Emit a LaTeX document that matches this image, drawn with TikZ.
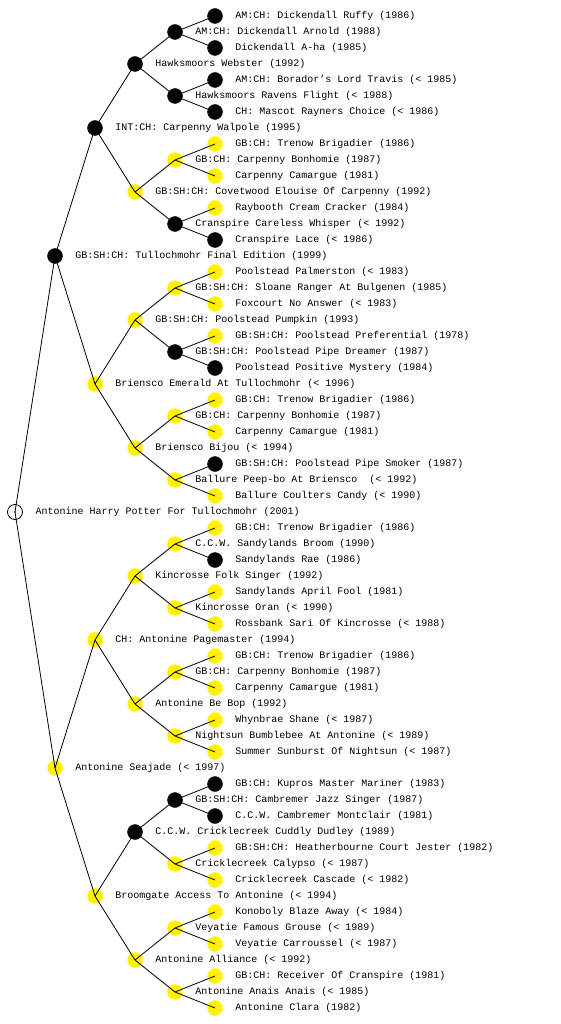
\documentclass[tikz,border=0pt]{standalone}
\usepackage{fontspec}
\setmonofont{Liberation Mono}
\usepackage{tikz}
\usetikzlibrary{positioning, calc}
\usepackage{xcolor}

\begin{document}
\begin{tikzpicture}[x=1pt, y=-1pt,
    dog/.style={circle, minimum size=15pt, inner sep=0pt},
    dogblk/.style={dog, fill=black, draw=black},
    dogylw/.style={dog, fill=yellow, draw=yellow},
    dogroot/.style={dog, fill=white, draw=black, line width=0.8pt},
    lbl/.style={inner sep=0pt, xshift=12.5pt, font=\ttfamily\fontsize{10}{12}\selectfont},
    edge/.style={line width=0.8pt}]
\useasboundingbox (0,0) rectangle (560,1024);
% root and parents
\node[dogroot, label={[lbl]right:{Antonine Harry Potter For Tullochmohr (2001)}}] (dog) at (15,512) {};
\fill (dog.center) circle (0.8pt);
\node[dogblk, label={[lbl]right:{GB:SH:CH: Tullochmohr Final Edition (1999)}}] (s) at (55,256) {};
\node[dogylw, label={[lbl]right:{Antonine Seajade (< 1997)}}] (d) at (55,768) {};
% grandparents
\node[dogblk, label={[lbl]right:{INT:CH: Carpenny Walpole (1995)}}] (ss) at (95,128) {};
\node[dogylw, label={[lbl]right:{Briensco Emerald At Tullochmohr (< 1996)}}] (sd) at (95,384) {};
\node[dogylw, label={[lbl]right:{CH: Antonine Pagemaster (1994)}}] (ds) at (95,640) {};
\node[dogylw, label={[lbl]right:{Broomgate Access To Antonine (< 1994)}}] (dd) at (95,896) {};
% third generation
\node[dogblk, label={[lbl]right:{Hawksmoors Webster (1992)}}] (sss) at (135,64) {};
\node[dogylw, label={[lbl]right:{GB:SH:CH: Covetwood Elouise Of Carpenny (1992)}}] (ssd) at (135,192) {};
\node[dogylw, label={[lbl]right:{GB:SH:CH: Poolstead Pumpkin (1993)}}] (sds) at (135,320) {};
\node[dogylw, label={[lbl]right:{Briensco Bijou (< 1994)}}] (sdd) at (135,448) {};
\node[dogylw, label={[lbl]right:{Kincrosse Folk Singer (1992)}}] (dss) at (135,576) {};
\node[dogylw, label={[lbl]right:{Antonine Be Bop (1992)}}] (dsd) at (135,704) {};
\node[dogblk, label={[lbl]right:{C.C.W. Cricklecreek Cuddly Dudley (1989)}}] (dds) at (135,832) {};
\node[dogylw, label={[lbl]right:{Antonine Alliance (< 1992)}}] (ddd) at (135,960) {};
% fourth generation
\node[dogblk, label={[lbl]right:{AM:CH: Dickendall Arnold (1988)}}] (ssss) at (175,32) {};
\node[dogblk, label={[lbl]right:{Hawksmoors Ravens Flight (< 1988)}}] (sssd) at (175,96) {};
\node[dogylw, label={[lbl]right:{GB:CH: Carpenny Bonhomie (1987)}}] (ssds) at (175,160) {};
\node[dogblk, label={[lbl]right:{Cranspire Careless Whisper (< 1992)}}] (ssdd) at (175,224) {};
\node[dogylw, label={[lbl]right:{GB:SH:CH: Sloane Ranger At Bulgenen (1985)}}] (sdss) at (175,288) {};
\node[dogblk, label={[lbl]right:{GB:SH:CH: Poolstead Pipe Dreamer (1987)}}] (sdsd) at (175,352) {};
\node[dogylw, label={[lbl]right:{GB:CH: Carpenny Bonhomie (1987)}}] (sdds) at (175,416) {};
\node[dogylw, label={[lbl]right:{Ballure Peep-bo At Briensco\ \ (< 1992)}}] (sddd) at (175,480) {};
\node[dogylw, label={[lbl]right:{C.C.W. Sandylands Broom (1990)}}] (dsss) at (175,544) {};
\node[dogylw, label={[lbl]right:{Kincrosse Oran (< 1990)}}] (dssd) at (175,608) {};
\node[dogylw, label={[lbl]right:{GB:CH: Carpenny Bonhomie (1987)}}] (dsds) at (175,672) {};
\node[dogylw, label={[lbl]right:{Nightsun Bumblebee At Antonine (< 1989)}}] (dsdd) at (175,736) {};
\node[dogblk, label={[lbl]right:{GB:SH:CH: Cambremer Jazz Singer (1987)}}] (ddss) at (175,800) {};
\node[dogylw, label={[lbl]right:{Cricklecreek Calypso (< 1987)}}] (ddsd) at (175,864) {};
\node[dogylw, label={[lbl]right:{Veyatie Famous Grouse (< 1989)}}] (ddds) at (175,928) {};
\node[dogylw, label={[lbl]right:{Antonine Anais Anais (< 1985)}}] (dddd) at (175,992) {};
% fifth generation
\node[dogblk, label={[lbl]right:{AM:CH: Dickendall Ruffy (1986)}}] (sssss) at (215,16) {};
\node[dogblk, label={[lbl]right:{Dickendall A-ha (1985)}}] (ssssd) at (215,48) {};
\node[dogblk, label={[lbl]right:{AM:CH: Borador’s Lord Travis (< 1985)}}] (sssds) at (215,80) {};
\node[dogblk, label={[lbl]right:{CH: Mascot Rayners Choice (< 1986)}}] (sssdd) at (215,112) {};
\node[dogylw, label={[lbl]right:{GB:CH: Trenow Brigadier (1986)}}] (ssdss) at (215,144) {};
\node[dogylw, label={[lbl]right:{Carpenny Camargue (1981)}}] (ssdsd) at (215,176) {};
\node[dogylw, label={[lbl]right:{Raybooth Cream Cracker (1984)}}] (ssdds) at (215,208) {};
\node[dogblk, label={[lbl]right:{Cranspire Lace (< 1986)}}] (ssddd) at (215,240) {};
\node[dogylw, label={[lbl]right:{Poolstead Palmerston (< 1983)}}] (sdsss) at (215,272) {};
\node[dogylw, label={[lbl]right:{Foxcourt No Answer (< 1983)}}] (sdssd) at (215,304) {};
\node[dogylw, label={[lbl]right:{GB:SH:CH: Poolstead Preferential (1978)}}] (sdsds) at (215,336) {};
\node[dogblk, label={[lbl]right:{Poolstead Positive Mystery (1984)}}] (sdsdd) at (215,368) {};
\node[dogylw, label={[lbl]right:{GB:CH: Trenow Brigadier (1986)}}] (sddss) at (215,400) {};
\node[dogylw, label={[lbl]right:{Carpenny Camargue (1981)}}] (sddsd) at (215,432) {};
\node[dogblk, label={[lbl]right:{GB:SH:CH: Poolstead Pipe Smoker (1987)}}] (sddds) at (215,464) {};
\node[dogylw, label={[lbl]right:{Ballure Coulters Candy (< 1990)}}] (sdddd) at (215,496) {};
\node[dogylw, label={[lbl]right:{GB:CH: Trenow Brigadier (1986)}}] (dssss) at (215,528) {};
\node[dogblk, label={[lbl]right:{Sandylands Rae (1986)}}] (dsssd) at (215,560) {};
\node[dogylw, label={[lbl]right:{Sandylands April Fool (1981)}}] (dssds) at (215,592) {};
\node[dogylw, label={[lbl]right:{Rossbank Sari Of Kincrosse (< 1988)}}] (dssdd) at (215,624) {};
\node[dogylw, label={[lbl]right:{GB:CH: Trenow Brigadier (1986)}}] (dsdss) at (215,656) {};
\node[dogylw, label={[lbl]right:{Carpenny Camargue (1981)}}] (dsdsd) at (215,688) {};
\node[dogylw, label={[lbl]right:{Whynbrae Shane (< 1987)}}] (dsdds) at (215,720) {};
\node[dogylw, label={[lbl]right:{Summer Sunburst Of Nightsun (< 1987)}}] (dsddd) at (215,752) {};
\node[dogblk, label={[lbl]right:{GB:CH: Kupros Master Mariner (1983)}}] (ddsss) at (215,784) {};
\node[dogblk, label={[lbl]right:{C.C.W. Cambremer Montclair (1981)}}] (ddssd) at (215,816) {};
\node[dogylw, label={[lbl]right:{GB:SH:CH: Heatherbourne Court Jester (1982)}}] (ddsds) at (215,848) {};
\node[dogylw, label={[lbl]right:{Cricklecreek Cascade (< 1982)}}] (ddsdd) at (215,880) {};
\node[dogylw, label={[lbl]right:{Konoboly Blaze Away (< 1984)}}] (dddss) at (215,912) {};
\node[dogylw, label={[lbl]right:{Veyatie Carroussel (< 1987)}}] (dddsd) at (215,944) {};
\node[dogylw, label={[lbl]right:{GB:CH: Receiver Of Cranspire (1981)}}] (dddds) at (215,976) {};
\node[dogylw, label={[lbl]right:{Antonine Clara (1982)}}] (ddddd) at (215,1008) {};
% lines
\draw[edge] (dog.center) -- (s.center) (dog.center) -- (d.center);
\draw[edge] (s.center) -- (ss.center) (s.center) -- (sd.center);
\draw[edge] (d.center) -- (ds.center) (d.center) -- (dd.center);
\draw[edge] (ss.center) -- (sss.center) (ss.center) -- (ssd.center);
\draw[edge] (sd.center) -- (sds.center) (sd.center) -- (sdd.center);
\draw[edge] (ds.center) -- (dss.center) (ds.center) -- (dsd.center);
\draw[edge] (dd.center) -- (dds.center) (dd.center) -- (ddd.center);
\draw[edge] (sss.center) -- (ssss.center) (sss.center) -- (sssd.center);
\draw[edge] (ssd.center) -- (ssds.center) (ssd.center) -- (ssdd.center);
\draw[edge] (sds.center) -- (sdss.center) (sds.center) -- (sdsd.center);
\draw[edge] (sdd.center) -- (sdds.center) (sdd.center) -- (sddd.center);
\draw[edge] (dss.center) -- (dsss.center) (dss.center) -- (dssd.center);
\draw[edge] (dsd.center) -- (dsds.center) (dsd.center) -- (dsdd.center);
\draw[edge] (dds.center) -- (ddss.center) (dds.center) -- (ddsd.center);
\draw[edge] (ddd.center) -- (ddds.center) (ddd.center) -- (dddd.center);
\draw[edge] (ssss.center) -- (sssss.center) (ssss.center) -- (ssssd.center);
\draw[edge] (sssd.center) -- (sssds.center) (sssd.center) -- (sssdd.center);
\draw[edge] (ssds.center) -- (ssdss.center) (ssds.center) -- (ssdsd.center);
\draw[edge] (ssdd.center) -- (ssdds.center) (ssdd.center) -- (ssddd.center);
\draw[edge] (sdss.center) -- (sdsss.center) (sdss.center) -- (sdssd.center);
\draw[edge] (sdsd.center) -- (sdsds.center) (sdsd.center) -- (sdsdd.center);
\draw[edge] (sdds.center) -- (sddss.center) (sdds.center) -- (sddsd.center);
\draw[edge] (sddd.center) -- (sddds.center) (sddd.center) -- (sdddd.center);
\draw[edge] (dsss.center) -- (dssss.center) (dsss.center) -- (dsssd.center);
\draw[edge] (dssd.center) -- (dssds.center) (dssd.center) -- (dssdd.center);
\draw[edge] (dsds.center) -- (dsdss.center) (dsds.center) -- (dsdsd.center);
\draw[edge] (dsdd.center) -- (dsdds.center) (dsdd.center) -- (dsddd.center);
\draw[edge] (ddss.center) -- (ddsss.center) (ddss.center) -- (ddssd.center);
\draw[edge] (ddsd.center) -- (ddsds.center) (ddsd.center) -- (ddsdd.center);
\draw[edge] (ddds.center) -- (dddss.center) (ddds.center) -- (dddsd.center);
\draw[edge] (dddd.center) -- (dddds.center) (dddd.center) -- (ddddd.center);
\end{tikzpicture}
\end{document}
